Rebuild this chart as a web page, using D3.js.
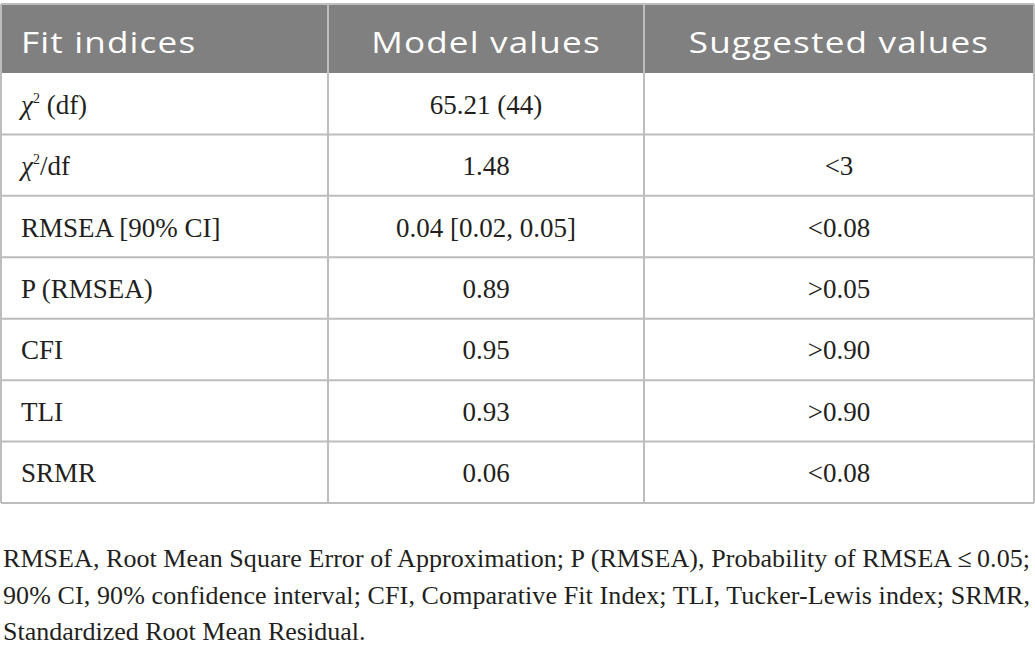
<!DOCTYPE html>
<html>
<head>
<meta charset="utf-8">
<script src="https://cdn.jsdelivr.net/npm/d3@7"></script>
<style>
  body { margin: 0; background: #fff; }
  svg { display: block; }
</style>
</head>
<body>
<svg id="chart" width="1035" height="656"></svg>
<script>
// table content
var headers = ["Fit indices", "Model values", "Suggested values"];
var fitIndices = ["χ2 (df)", "χ2/df", "RMSEA [90% CI]", "P (RMSEA)", "CFI", "TLI", "SRMR"];
var modelValues = ["65.21 (44)", "1.48", "0.04 [0.02, 0.05]", "0.89", "0.95", "0.93", "0.06"];
var suggestedValues = ["", "<3", "<0.08", ">0.05", ">0.90", ">0.90", "<0.08"];
var footnoteLines = [
  "RMSEA, Root Mean Square Error of Approximation; P (RMSEA), Probability of RMSEA\u2009≤\u20090.05;",
  "90% CI, 90% confidence interval; CFI, Comparative Fit Index; TLI, Tucker-Lewis index; SRMR,",
  "Standardized Root Mean Residual."
];

var colEdges = [1, 328, 644, 1034];
var headerTop = 4, headerBottom = 73, tableBottom = 503;
var gridColor = "#bdbdbd";
var textColor = "#231f20";

var svg = d3.select("#chart");

var y = d3.scaleBand()
  .domain(d3.range(fitIndices.length))
  .range([headerBottom, tableBottom]);

// header band
svg.append("rect")
  .attr("x", colEdges[0])
  .attr("y", headerTop)
  .attr("width", colEdges[3] - colEdges[0])
  .attr("height", headerBottom - headerTop)
  .attr("fill", "#808080");

// horizontal rules
var hLines = [headerTop].concat(d3.range(fitIndices.length).map(function(i) { return y(i) + y.bandwidth(); }));
svg.selectAll("line.h")
  .data(hLines)
  .enter().append("line")
  .attr("class", "h")
  .attr("x1", colEdges[0]).attr("x2", colEdges[3])
  .attr("y1", function(d) { return d; }).attr("y2", function(d) { return d; })
  .attr("stroke", gridColor)
  .attr("stroke-width", 2);

// vertical rules
svg.selectAll("line.v")
  .data(colEdges)
  .enter().append("line")
  .attr("class", "v")
  .attr("x1", function(d) { return d; }).attr("x2", function(d) { return d; })
  .attr("y1", headerTop).attr("y2", tableBottom)
  .attr("stroke", gridColor)
  .attr("stroke-width", 2);

// header labels (stretched a bit, the original face is wide)
var headerX = [21, (colEdges[1] + colEdges[2]) / 2, (colEdges[2] + colEdges[3]) / 2];
svg.selectAll("text.head")
  .data(headers)
  .enter().append("text")
  .attr("class", "head")
  .attr("transform", function(d, i) { return "translate(" + headerX[i] + ",53) scale(1.17,1)"; })
  .attr("text-anchor", function(d, i) { return i == 0 ? "start" : "middle"; })
  .attr("font-family", "'Open Sans', sans-serif")
  .attr("font-size", 30)
  .attr("letter-spacing", 1)
  .attr("fill", "#fff")
  .text(function(d) { return d; });

var bodyFont = "'Liberation Serif', 'Times New Roman', serif";
var bodySize = 27;

function rowY(i) { return y(i) + y.bandwidth() / 2 + 10; }

// first column, with italic chi and superscript 2
var labels = svg.selectAll("text.label")
  .data(fitIndices)
  .enter().append("text")
  .attr("class", "label")
  .attr("x", 21)
  .attr("y", function(d, i) { return rowY(i); })
  .attr("font-family", bodyFont)
  .attr("font-size", bodySize)
  .attr("fill", textColor);

labels.each(function(d) {
  var t = d3.select(this);
  if (d.indexOf("χ2") == 0) {
    t.append("tspan").attr("font-style", "italic").text("χ");
    t.append("tspan").attr("font-size", 14).attr("dy", -11).text("2");
    t.append("tspan").attr("dy", 11).text(d.slice(2));
  } else {
    t.text(d);
  }
});

svg.selectAll("text.model")
  .data(modelValues)
  .enter().append("text")
  .attr("class", "model")
  .attr("x", headerX[1])
  .attr("y", function(d, i) { return rowY(i); })
  .attr("text-anchor", "middle")
  .attr("font-family", bodyFont)
  .attr("font-size", bodySize)
  .attr("fill", textColor)
  .text(function(d) { return d; });

svg.selectAll("text.suggest")
  .data(suggestedValues)
  .enter().append("text")
  .attr("class", "suggest")
  .attr("x", headerX[2])
  .attr("y", function(d, i) { return rowY(i); })
  .attr("text-anchor", "middle")
  .attr("font-family", bodyFont)
  .attr("font-size", bodySize)
  .attr("fill", textColor)
  .text(function(d) { return d; });

// footnote, justified for the full lines
svg.selectAll("text.note")
  .data(footnoteLines)
  .enter().append("text")
  .attr("class", "note")
  .attr("x", 3)
  .attr("y", function(d, i) { return 567 + i * 36.7; })
  .attr("font-family", bodyFont)
  .attr("font-size", 26)
  .attr("fill", textColor)
  .attr("textLength", function(d, i) { return i < 2 ? 1027 : null; })
  .attr("lengthAdjust", "spacing")
  .text(function(d) { return d; });
</script>
</body>
</html>
